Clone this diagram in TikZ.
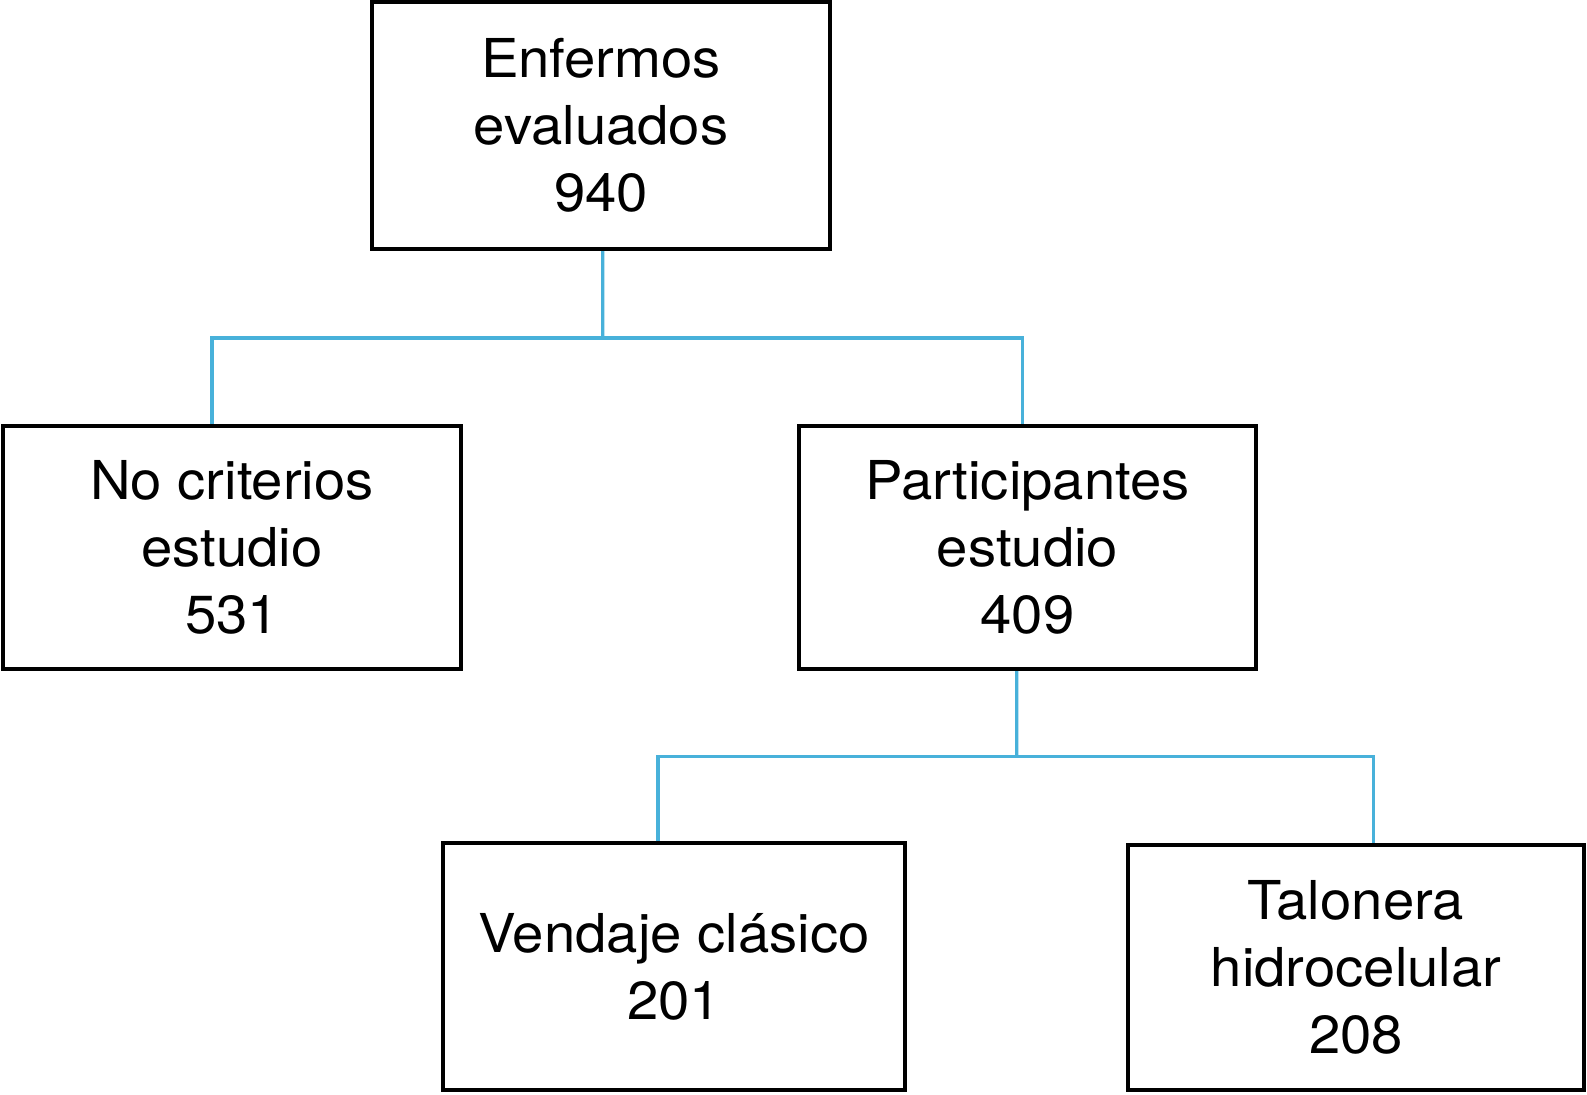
\documentclass[tikz,border=0pt]{standalone}
\usepackage{fontspec}
\setmainfont[FakeStretch=1.05]{TeX Gyre Heros}
\definecolor{connblue}{RGB}{72,177,218}
\begin{document}
\begin{tikzpicture}[x=0.5pt,y=-0.5pt,
  boxnode/.style={draw=black,line width=2pt,rectangle,inner sep=0pt,align=center,
    font=\fontsize{26.8pt}{33.6pt}\selectfont},
  conn/.style={draw=connblue,line width=1.6pt}]
\useasboundingbox (0,0) rectangle (1587,1094);
\node[boxnode,minimum width=229pt,minimum height=123.5pt] (top) at (601,125.5) {Enfermos\\evaluados\\940};
\node[boxnode,minimum width=229pt,minimum height=121.5pt] (left) at (232,547.5) {No criterios\\estudio\\531};
\node[boxnode,minimum width=228.5pt,minimum height=121.5pt] (mid) at (1027.5,547.5) {Participantes\\estudio\\409};
\node[boxnode,minimum width=231pt,minimum height=123.5pt] (bl) at (674,966.5) {Vendaje clásico\\201};
\node[boxnode,minimum width=228pt,minimum height=122.5pt] (br) at (1356,967.5) {Talonera\\hidrocelular\\208};
\coordinate (j1) at (602.7,338);
\coordinate (j2) at (1016.7,756.7);
\draw[conn] ([xshift=0.85pt]top.south) -- (j1);
\draw[conn] ([xshift=-10pt]left.north) |- (j1) -| ([xshift=-2.4pt]mid.north);
\draw[conn] ([xshift=-5.4pt]mid.south) -- (j2);
\draw[conn] ([xshift=-8pt]bl.north) |- (j2) -| ([xshift=8.85pt]br.north);
\end{tikzpicture}
\end{document}
